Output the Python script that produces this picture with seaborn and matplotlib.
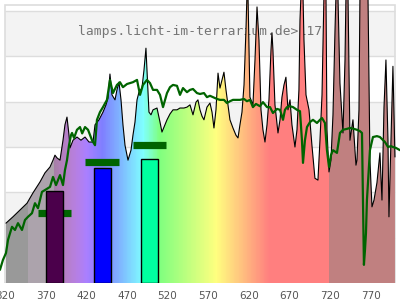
import numpy as np
import matplotlib
matplotlib.use("Agg")
import matplotlib.pyplot as plt
import seaborn as sns

# ---------------- data (wavelength in nm, relative intensity) ----------------
spec_nm = [321.2, 329.8, 338.5, 347.1, 354.5, 363.1, 369.2, 375.4, 379.1, 381.5,
           384.0, 387.7, 391.4, 393.8, 396.3, 398.8, 400.0, 403.7, 408.6, 413.5,
           418.5, 423.4, 428.3, 430.8, 435.7, 440.6, 444.3, 446.8, 449.2, 451.7,
           455.4, 457.8, 460.3, 462.8, 465.2, 467.7, 471.4, 475.1, 477.5, 480.0,
           482.5, 484.9, 488.6, 491.1, 493.5, 494.8, 497.2, 499.7, 502.2, 507.1,
           510.8, 513.2, 516.9, 519.4, 523.1, 526.8, 531.7, 535.4, 540.3, 544.0,
           547.7, 551.4, 555.1, 557.5, 560.0, 562.5, 564.9, 568.6, 572.3, 574.8,
           577.2, 579.7, 582.2, 584.6, 587.1, 589.5, 592.0, 594.5, 596.9, 600.6,
           604.3, 606.8, 609.2, 611.7, 614.2, 616.6, 617.8, 619.1, 621.5, 625.2,
           627.7, 630.2, 632.6, 635.1, 637.5, 640.0, 642.5, 644.9, 647.4, 648.6,
           649.8, 652.3, 656.0, 658.5, 660.9, 663.4, 665.8, 668.3, 670.8, 673.2,
           676.9, 679.4, 681.8, 683.1, 684.3, 686.8, 688.0, 690.5, 694.2, 697.8,
           701.5, 705.2, 707.7, 710.2, 712.6, 715.1, 716.3, 718.8, 721.2, 723.7,
           726.2, 727.4, 729.8, 732.3, 736.0, 738.5, 739.7, 742.2, 744.6, 748.3,
           752.0, 753.2, 755.7, 756.9, 766.8, 769.2, 771.7, 774.2, 777.8, 781.5,
           784.0, 786.5, 788.9, 791.4, 792.6, 795.1, 797.5, 800.0]
spec_val = [1.32, 1.46, 1.61, 1.76, 1.99, 2.23, 2.43, 2.56, 2.71, 2.82,
            2.76, 2.71, 3.15, 3.49, 3.66, 3.26, 2.98, 3.15, 3.22, 3.15,
            3.22, 3.11, 3.11, 3.49, 3.60, 3.77, 3.93, 4.08, 4.61, 4.15,
            4.04, 4.26, 4.43, 4.04, 3.49, 3.04, 2.71, 2.93, 3.26, 3.55,
            4.04, 4.21, 4.30, 4.70, 5.18, 4.70, 3.77, 3.71, 3.82, 3.86,
            3.55, 3.33, 3.49, 3.60, 3.73, 3.82, 3.82, 3.86, 3.86, 3.88,
            3.93, 3.71, 3.99, 4.04, 3.82, 3.68, 3.60, 3.88, 3.97, 3.77,
            3.42, 3.82, 4.63, 4.30, 4.48, 4.65, 4.26, 3.93, 3.60, 3.42,
            3.26, 3.20, 3.49, 3.77, 4.37, 5.58, 6.35, 6.35, 4.10, 3.93,
            4.92, 6.09, 5.36, 3.82, 3.38, 3.11, 3.49, 4.04, 5.14, 5.52,
            5.14, 3.93, 3.31, 3.60, 4.10, 4.37, 4.54, 3.82, 4.04, 3.49,
            3.00, 3.38, 4.26, 5.80, 6.35, 6.35, 5.36, 4.15, 3.82, 3.04,
            2.31, 2.27, 3.15, 4.15, 6.35, 6.35, 3.38, 2.45, 2.71, 3.71,
            5.58, 6.35, 6.35, 4.41, 3.31, 4.92, 6.35, 6.35, 3.15, 3.60,
            2.60, 2.71, 3.82, 6.35, 6.35, 2.71, 1.68, 1.83, 2.21, 2.87,
            1.83, 3.88, 4.92, 3.15, 1.46, 3.15, 4.78, 2.78]

green_nm = [313.8, 317.5, 321.2, 323.7, 328.6, 332.3, 336.0, 340.9, 344.6, 348.3,
            353.2, 356.9, 360.6, 365.5, 369.2, 375.4, 379.1, 382.8, 387.7, 391.4,
            393.8, 396.3, 398.8, 401.2, 402.5, 405.0, 408.6, 412.3, 415.0, 418.5,
            422.2, 427.1, 430.8, 433.2, 436.9, 440.6, 445.5, 449.2, 452.9, 457.8,
            461.5, 465.2, 470.2, 473.8, 477.5, 482.5, 486.2, 489.8, 494.8, 498.5,
            502.2, 507.1, 510.8, 514.5, 519.4, 523.1, 526.8, 531.7, 535.4, 539.1,
            544.0, 547.7, 551.4, 556.3, 560.0, 564.9, 568.6, 572.3, 576.0, 580.9,
            584.6, 589.5, 593.2, 596.9, 600.6, 605.5, 609.2, 614.2, 617.8, 621.5,
            625.2, 628.9, 633.8, 637.5, 642.5, 646.2, 649.8, 654.8, 658.5, 662.2,
            664.6, 667.1, 670.8, 674.5, 679.4, 683.1, 685.5, 686.8, 689.2, 691.7,
            695.4, 699.1, 704.0, 707.7, 710.2, 713.8, 716.3, 718.8, 721.2, 723.7,
            728.6, 732.3, 736.0, 740.9, 744.6, 749.5, 753.2, 756.9, 759.4, 760.6,
            761.8, 763.1, 764.3, 765.5, 768.0, 769.2, 772.9, 777.8, 781.5, 787.7,
            791.4, 795.1, 797.5, 801.2, 806.2]
green_val = [0.29, 0.51, 0.66, 0.95, 1.24, 1.17, 1.32, 1.17, 1.39, 1.46,
             1.54, 1.76, 1.65, 2.01, 2.05, 2.12, 2.34, 2.16, 2.38, 2.16,
             2.49, 2.71, 3.04, 3.26, 3.31, 3.20, 3.38, 3.44, 3.30, 3.44,
             3.38, 3.15, 3.04, 3.60, 3.77, 3.88, 4.04, 4.48, 4.19, 4.37,
             4.43, 4.32, 4.39, 4.41, 4.43, 4.48, 4.15, 4.37, 4.48, 4.41,
             4.26, 4.26, 4.15, 3.88, 4.19, 4.32, 4.37, 4.35, 4.15, 4.30,
             4.21, 4.26, 4.28, 4.19, 4.17, 4.19, 4.10, 4.13, 4.10, 4.06,
             4.04, 4.04, 3.97, 4.01, 4.04, 4.04, 4.04, 4.06, 4.01, 4.04,
             3.88, 3.95, 3.90, 3.99, 3.88, 3.88, 3.75, 3.84, 3.82, 3.60,
             3.82, 3.88, 3.90, 3.88, 3.82, 3.79, 3.15, 2.65, 3.15, 3.44,
             3.55, 3.60, 3.53, 3.60, 3.64, 3.53, 2.93, 2.56, 2.82, 2.93,
             2.87, 3.31, 3.38, 3.40, 3.42, 3.40, 3.38, 3.35, 3.31, 1.83,
             0.40, 0.73, 1.10, 1.83, 2.60, 2.93, 3.22, 3.24, 3.22, 3.11,
             3.00, 3.02, 3.00, 2.98, 2.93]

bar_left = [370.5, 430.0, 487.5]
bar_width = [20.5, 20.0, 20.5]
bar_height = [2.03, 2.53, 2.73]
bar_colors = ["#4b004b", "#0000ff", "#00ffa0"]

mark_start = [360.6, 418.5, 477.5]
mark_end = [401.0, 460.3, 518.2]
mark_val = [1.555, 2.67, 3.04]

tick_nm = [320, 370, 420, 470, 520, 570, 620, 670, 720, 770]
title = "lamps.licht-im-terrarium.de>117"


def spectral_color(nm):
    if nm < 348:
        return (0.6, 0.6, 0.6)
    if nm < 380:
        return (0.675, 0.643, 0.675)
    if nm >= 720:
        return (0.753, 0.502, 0.502)
    if nm < 440:
        r, g, b = (440 - nm) / 60, 0.0, 1.0
    elif nm < 490:
        r, g, b = 0.0, (nm - 440) / 50, 1.0
    elif nm < 510:
        r, g, b = 0.0, 1.0, (510 - nm) / 20
    elif nm < 580:
        r, g, b = (nm - 510) / 70, 1.0, 0.0
    elif nm < 645:
        r, g, b = 1.0, (645 - nm) / 65, 0.0
    else:
        r, g, b = 1.0, 0.0, 0.0
    f = 0.3 + 0.7 * (nm - 380) / 40 if nm < 420 else 1.0
    return tuple(0.5 + 0.5 * c * f for c in (r, g, b))


sns.set_theme(style="white")
plt.rcParams["font.family"] = ["DejaVu Sans"]

fig = plt.figure(figsize=(4, 3), dpi=100)
ax = fig.add_axes([0, 17 / 300, 1, 283 / 300])
ax.set_facecolor("white")
for s in ax.spines.values():
    s.set_visible(False)

x0, x1 = 320, 800
ytop = 6.133
# background bands + grid
for lo in [1, 3, 5]:
    ax.fill_between([x0, x1], lo, lo + 1, color="#f3f3f3", lw=0, zorder=0)
ax.hlines([1, 2, 3, 4, 5, 6], x0, x1, color="#dddddd", lw=1.0, zorder=0.5)
ax.plot([x0, x1, x1, x0, x0], [0, 0, ytop, ytop, 0], color="#dddddd", lw=1.2,
        zorder=0.6, solid_joinstyle="miter")

ax.text(560.6, 5.54, title, family="DejaVu Sans Mono", fontsize=9.4,
        color="#757575", ha="center", va="center", zorder=1)

# coloured spectrum fill
poly = ax.fill_between(spec_nm, 0, spec_val, facecolor="none", edgecolor="none")
grid = np.arange(320, 800.01, 1.0)
img = np.array([[spectral_color(w) for w in grid]])
im = ax.imshow(img, extent=[320, 800, 0, 6.6], aspect="auto",
               interpolation="nearest", zorder=2)
im.set_clip_path(poly.get_paths()[0], transform=ax.transData)

sns.lineplot(x=spec_nm, y=spec_val, color="black", lw=0.8, sort=False,
             estimator=None, ax=ax, zorder=3)
sns.lineplot(x=green_nm, y=green_val, color="#006400", lw=1.6, sort=False,
             estimator=None, ax=ax, zorder=4)

ax.hlines(mark_val, mark_start, mark_end, color="#006400", lw=5.2, zorder=5)
ax.bar(bar_left, bar_height, width=bar_width, align="edge", color=bar_colors,
       edgecolor="black", linewidth=1.0, zorder=6)

ax.set_xlim(313.85, 806.2)
ax.set_ylim(0, 6.243)
ax.set_xticks(tick_nm)
ax.set_xticklabels([str(t) for t in tick_nm])
ax.set_yticks([])
ax.tick_params(axis="x", length=0, pad=6, labelsize=7.5, colors="#555555")
ax.set_xlabel("")
ax.set_ylabel("")

fig.savefig("out.png", dpi=100, facecolor="white")
